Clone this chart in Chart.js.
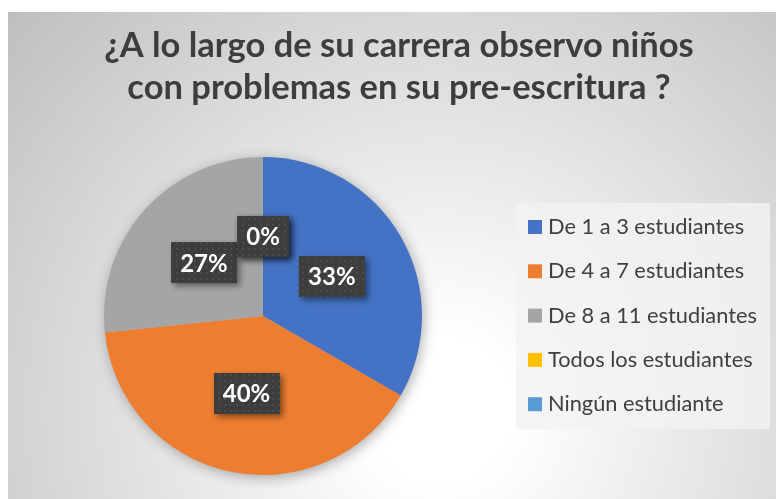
<!DOCTYPE html>
<html>
<head>
<meta charset="utf-8">
<script src="https://cdn.jsdelivr.net/npm/chart.js@4.4.1/dist/chart.umd.min.js"></script>
<style>
  html, body { margin: 0; padding: 0; background: #fff; }
  canvas { display: block; }
</style>
</head>
<body>
<canvas id="pieChart" width="776" height="499"></canvas>
<script>
// Chart data
const titleLines = ["¿A lo largo de su carrera observo niños", "con problemas en su pre-escritura ?"];
const categories = ["De 1 a 3 estudiantes", "De 4 a 7 estudiantes", "De 8 a 11 estudiantes", "Todos los estudiantes", "Ningún estudiante"];
const counts = [5, 6, 4, 0, 0];
const sliceColors = ["#4472C4", "#ED7D31", "#A5A5A5", "#FFC000", "#5B9BD5"];

const FONT = "Lato, 'Open Sans', sans-serif";
const TEXT_COLOR = "#404040";

// dotted dark fill used by the percentage boxes
const makeDotPattern = (ctx) => {
    const tile = document.createElement("canvas");
    tile.width = 6;
    tile.height = 6;
    const t = tile.getContext("2d");
    t.fillStyle = "#3d3d3d";
    t.fillRect(0, 0, 6, 6);
    t.fillStyle = "#4b4b4b";
    t.fillRect(2, 2, 2, 2);
    return ctx.createPattern(tile, "repeat");
};

// background + title
const backgroundPlugin = {
    id: "background",
    beforeDraw(chart) {
        const ctx = chart.ctx;
        ctx.save();
        ctx.fillStyle = "#ffffff";
        ctx.fillRect(0, 0, chart.width, chart.height);
        const grad = ctx.createRadialGradient(440, 410, 0, 440, 410, 600);
        grad.addColorStop(0, "#ffffff");
        grad.addColorStop(0.12, "#ffffff");
        grad.addColorStop(1, "#bdbdbd");
        ctx.fillStyle = grad;
        ctx.fillRect(8, 12, chart.width - 8, chart.height - 12);

        ctx.fillStyle = "#3d3d3d";
        ctx.font = "bold 34.5px " + FONT;
        ctx.textAlign = "center";
        ctx.textBaseline = "middle";
        ctx.fillText(titleLines[0], 399, 46);
        ctx.fillText(titleLines[1], 399, 88);
        ctx.restore();
    },
    beforeDatasetsDraw(chart) {
        // soft shadow under the whole pie
        const arc = chart.getDatasetMeta(0).data[0];
        if (!arc) return;
        const ctx = chart.ctx;
        ctx.save();
        ctx.shadowColor = "rgba(0,0,0,0.35)";
        ctx.shadowBlur = 14;
        ctx.shadowOffsetX = 2;
        ctx.shadowOffsetY = 3;
        ctx.fillStyle = "#bbbbbb";
        ctx.beginPath();
        ctx.arc(arc.x, arc.y, arc.outerRadius - 1, 0, Math.PI * 2);
        ctx.fill();
        ctx.restore();
    }
};

// percentage labels in dark boxes
const percentLabels = {
    id: "percentLabels",
    afterDatasetsDraw(chart) {
        const ctx = chart.ctx;
        const meta = chart.getDatasetMeta(0);
        const total = counts.reduce((a, b) => a + b, 0);
        const pattern = makeDotPattern(ctx);
        ctx.save();
        ctx.font = "bold 24px " + FONT;
        ctx.textAlign = "center";
        ctx.textBaseline = "middle";
        meta.data.forEach((arc, i) => {
            const pos = arc.tooltipPosition();
            const text = Math.round(counts[i] / total * 100) + "%";
            const w = ctx.measureText(text).width + 18;
            const h = 41;
            ctx.save();
            ctx.shadowColor = "rgba(0,0,0,0.45)";
            ctx.shadowBlur = 6;
            ctx.shadowOffsetX = 3;
            ctx.shadowOffsetY = 3;
            ctx.fillStyle = pattern;
            ctx.fillRect(Math.round(pos.x - w / 2), Math.round(pos.y - h / 2), Math.round(w), h);
            ctx.restore();
            ctx.fillStyle = "#ffffff";
            ctx.fillText(text, pos.x, pos.y + 1);
        });
        ctx.restore();
    }
};

// legend on the right
const legendBox = {
    id: "legendBox",
    afterDraw(chart) {
        const ctx = chart.ctx;
        ctx.save();
        ctx.fillStyle = "rgba(242,242,242,0.8)";
        ctx.fillRect(516, 203, 254, 226);
        ctx.font = "21.8px " + FONT;
        ctx.textBaseline = "middle";
        categories.forEach((label, i) => {
            const y = 227 + i * 44.3;
            ctx.fillStyle = sliceColors[i];
            ctx.fillRect(528, y - 7, 14, 14);
            ctx.fillStyle = TEXT_COLOR;
            ctx.fillText(label, 548, y);
        });
        ctx.restore();
    }
};

new Chart(document.getElementById("pieChart"), {
    type: "pie",
    data: {
        labels: categories,
        datasets: [{
            data: counts,
            backgroundColor: sliceColors,
            borderWidth: 0
        }]
    },
    options: {
        responsive: false,
        animation: false,
        devicePixelRatio: 1,
        layout: { padding: { left: 104, right: 354, top: 157, bottom: 24 } },
        plugins: {
            legend: { display: false },
            title: { display: false },
            tooltip: { enabled: false }
        }
    },
    plugins: [backgroundPlugin, percentLabels, legendBox]
});
</script>
</body>
</html>
